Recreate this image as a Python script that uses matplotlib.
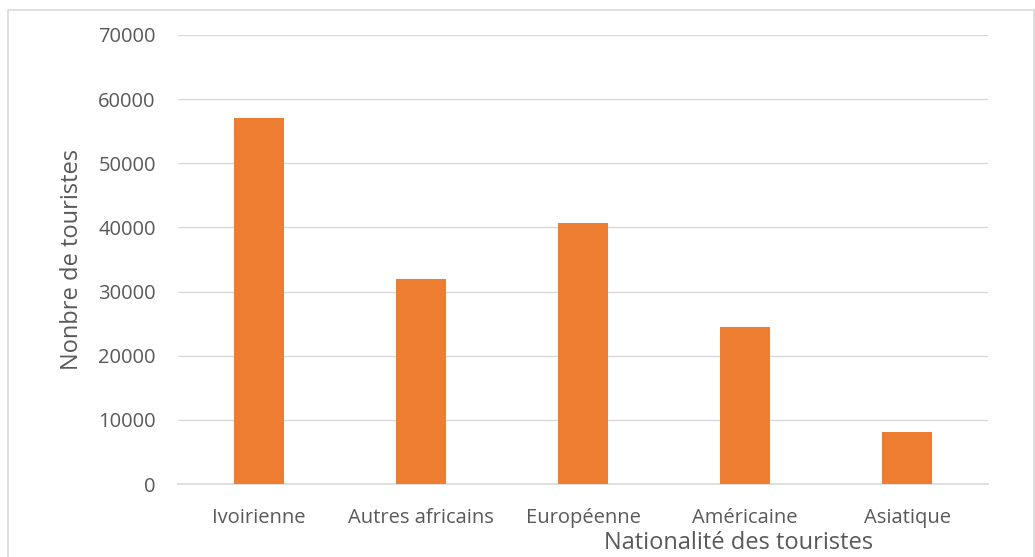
import matplotlib.pyplot as plt
from matplotlib.patches import Rectangle

plt.rcParams['font.family'] = ['Open Sans', 'DejaVu Sans']

categories = ['Ivoirienne', 'Autres africains', 'Européenne', 'Américaine', 'Asiatique']
tourists = [57100, 31900, 40700, 24400, 8100]
yticks = [0, 10000, 20000, 30000, 40000, 50000, 60000, 70000]

W, H = 1035, 557
fig = plt.figure(figsize=(W / 100, H / 100), dpi=100)
ax = fig.add_axes([178 / W, 1 - 484 / H, (988 - 178) / W, (484 - 35) / H])

ax.bar(range(len(categories)), tourists, width=0.31, color='#ED7D31', zorder=3)

ax.set_xlim(-0.5, len(categories) - 0.5)
ax.set_ylim(0, 70000)
ax.set_yticks(yticks)
ax.set_yticklabels([str(v) for v in yticks])
ax.set_xticks(range(len(categories)))
ax.set_xticklabels(categories)
ax.grid(axis='y', color='#D9D9D9', linewidth=1, zorder=0)
for s in ['top', 'right', 'left']:
    ax.spines[s].set_visible(False)
ax.spines['bottom'].set_color('#D9D9D9')
ax.spines['bottom'].set_linewidth(1.2)
ax.tick_params(axis='both', length=0, labelsize=14.5, colors='#595959')
ax.tick_params(axis='y', pad=16)
ax.tick_params(axis='x', pad=17)

fig.text(72 / W, 1 - 259 / H, 'Nonbre de touristes', rotation=90, ha='center', va='center',
         fontsize=17, color='#595959')
fig.text(739 / W, 1 - 543 / H, 'Nationalité des touristes', ha='center', va='center',
         fontsize=17, color='#595959')

# chart border
fig.patches.append(Rectangle((8 / W, -0.05), (1034 - 8) / W, 1 - 10 / H + 0.05,
                             transform=fig.transFigure, fill=False,
                             edgecolor='#D9D9D9', linewidth=1.2))

fig.savefig('out.png', dpi=100)
